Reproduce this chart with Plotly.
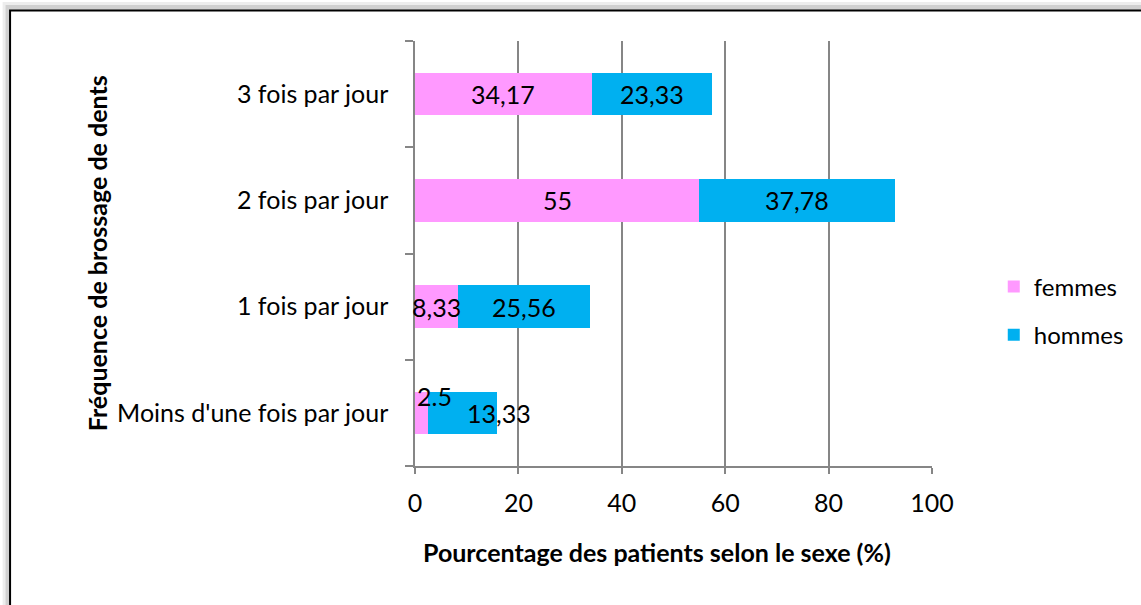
import plotly.graph_objects as go

# ---- data ----
categories = ["Moins d'une fois par jour", "1 fois par jour", "2 fois par jour", "3 fois par jour"]
femmes = [2.5, 8.33, 55, 34.17]
hommes = [13.33, 25.56, 37.78, 23.33]
femmes_labels = ["2.5", "8,33", "55", "34,17"]
hommes_labels = ["13,33", "25,56", "37,78", "23,33"]
x_ticks = [0, 20, 40, 60, 80, 100]

# ---- style ----
W, H = 1141, 605
L, R, T, B = 415, 207, 41, 139
FONT = "Lato"
FS = 25
PINK = "#FF99FF"
BLUE = "#00B0F0"
GRID = "#868686"
# label offsets (px) for the small segments
f_shift = [(13, 17), (0, 0), (0, 0), (0, 0)]
h_shift = [(37, 0), (0, 0), (0, 0), (0, 0)]

fig = go.Figure()
fig.add_trace(go.Bar(y=categories, x=femmes, orientation="h", name="femmes",
                     marker=dict(color=PINK, line=dict(width=0)), legendgroup="f"))
fig.add_trace(go.Bar(y=categories, x=hommes, orientation="h", name="hommes",
                     marker=dict(color=BLUE, line=dict(width=0)), legendgroup="h"))

ann = []
for i, c in enumerate(categories):
    ann.append(dict(x=femmes[i] / 2, y=c, xref="x", yref="y", text=femmes_labels[i],
                    showarrow=False, xanchor="center", yanchor="middle",
                    xshift=f_shift[i][0], yshift=f_shift[i][1],
                    font=dict(family=FONT, size=FS, color="black")))
    ann.append(dict(x=femmes[i] + hommes[i] / 2, y=c, xref="x", yref="y", text=hommes_labels[i],
                    showarrow=False, xanchor="center", yanchor="middle",
                    xshift=h_shift[i][0], yshift=h_shift[i][1],
                    font=dict(family=FONT, size=FS, color="black")))

pw = W - L - R
ph = H - T - B
def px_x(p):
    return (p - L) / pw
def px_y(p):
    return (H - B - p) / ph

ann.append(dict(x=px_x(658), y=px_y(552), xref="paper", yref="paper", xanchor="center", yanchor="middle",
                text="<b>Pourcentage des patients selon le sexe (%)</b>", showarrow=False,
                font=dict(family=FONT, size=FS, color="black")))
ann.append(dict(x=px_x(96), y=px_y(253), xref="paper", yref="paper", xanchor="center", yanchor="middle",
                text="<b>Fréquence de brossage de dents</b>", showarrow=False, textangle=-90,
                font=dict(family=FONT, size=FS, color="black")))

shapes = [
    dict(type="rect", xref="paper", yref="paper", layer="below",
         x0=px_x(1), y0=px_y(H + 20), x1=px_x(W + 20), y1=px_y(2),
         fillcolor="rgba(0,0,0,0.07)", line=dict(width=0)),
    dict(type="rect", xref="paper", yref="paper", layer="below",
         x0=px_x(4), y0=px_y(H + 20), x1=px_x(W + 20), y1=px_y(5),
         fillcolor="rgba(0,0,0,0.12)", line=dict(width=0)),
    dict(type="rect", xref="paper", yref="paper", layer="below",
         x0=px_x(8.5), y0=px_y(H + 20), x1=px_x(W + 20), y1=px_y(10.5),
         fillcolor="white", line=dict(color="black", width=2)),
]

fig.update_layout(
    width=W, height=H,
    margin=dict(l=L, r=R, t=T, b=B, pad=0),
    barmode="stack", bargap=0.6,
    paper_bgcolor="white", plot_bgcolor="rgba(0,0,0,0)",
    font=dict(family=FONT, size=FS, color="black"),
    showlegend=True,
    legend=dict(x=px_x(996), y=px_y(311), xanchor="left", yanchor="middle",
                traceorder="grouped", tracegroupgap=14, bgcolor="rgba(0,0,0,0)",
                font=dict(family=FONT, size=FS - 1, color="black"), itemwidth=30),
    annotations=ann, shapes=shapes,
)
fig.update_xaxes(range=[0, 100], tickvals=x_ticks, showgrid=True, gridcolor=GRID, gridwidth=1.5,
                 showline=True, linecolor=GRID, linewidth=1.5, ticks="outside", ticklen=6,
                 tickcolor=GRID, tickwidth=1.5, zeroline=False, ticklabelstandoff=8,
                 tickfont=dict(family=FONT, size=FS, color="black"))
fig.update_yaxes(categoryorder="array", categoryarray=categories, showgrid=False,
                 showline=True, linecolor=GRID, linewidth=1.5, ticks="outside", ticklen=8,
                 tickcolor=GRID, tickwidth=1.5, tickson="boundaries", ticklabelstandoff=20,
                 tickfont=dict(family=FONT, size=FS, color="black"))

fig.write_html("out.html", config={"displayModeBar": False},
               post_script="document.body.style.margin='0';")
